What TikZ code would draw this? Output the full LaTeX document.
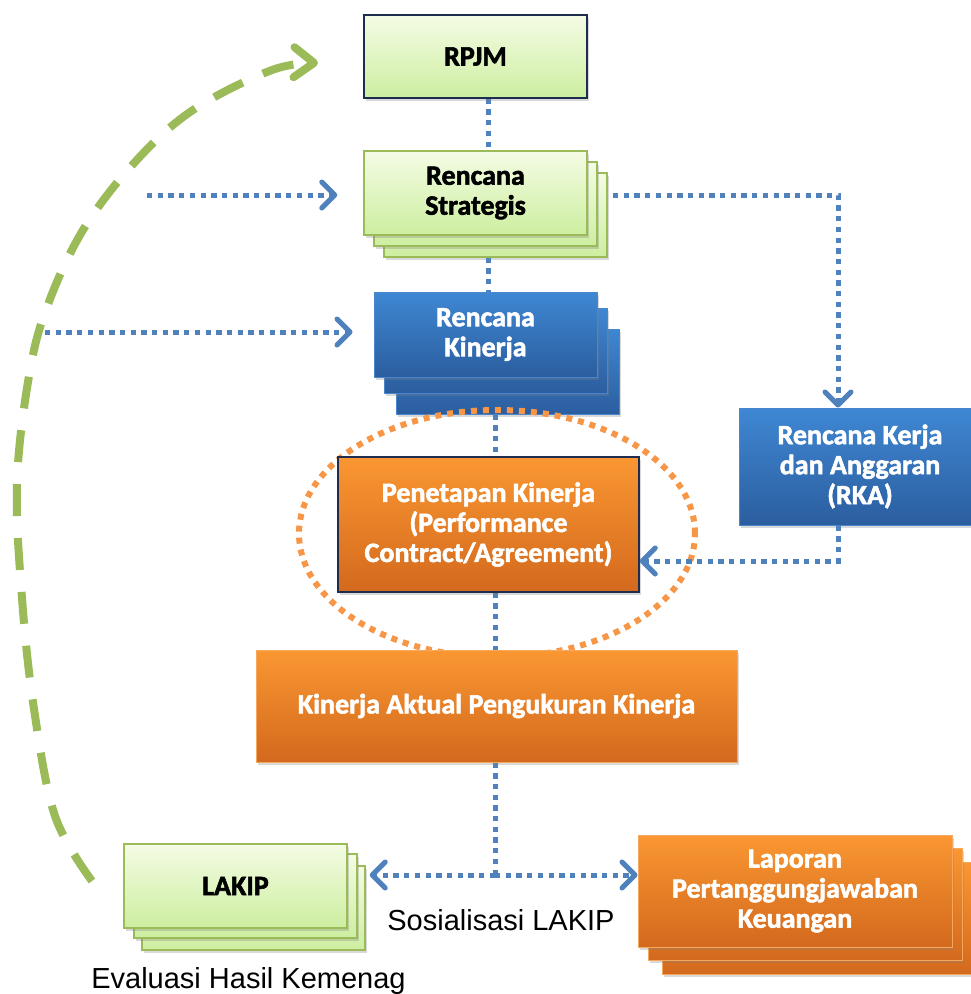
\documentclass[tikz,border=0pt]{standalone}
\usepackage{fontspec}
\setmainfont{Liberation Sans}
\newfontfamily\boxfont{Carlito}[BoldFeatures={FakeBold=2}]
\usepackage{tikz}
\usetikzlibrary{arrows.meta,positioning,shadows,backgrounds,shapes.geometric}
\definecolor{kgreen}{HTML}{9BBB59}
\definecolor{kgreentop}{HTML}{F4FCE4}
\definecolor{kgreenbot}{HTML}{CDEEA0}
\definecolor{kbluetop}{HTML}{3F87D3}
\definecolor{kbluebot}{HTML}{2B5E9F}
\definecolor{kblueedge}{HTML}{4A86CC}
\definecolor{korangetop}{HTML}{FA9732}
\definecolor{korangebot}{HTML}{D3691D}
\definecolor{korangeedge}{HTML}{F6A85E}
\definecolor{knavy}{HTML}{1E2D4F}
\definecolor{klink}{HTML}{4F81BD}
\definecolor{kellipse}{HTML}{F79646}

\begin{document}
\begin{tikzpicture}[x=1pt,y=-1pt,
  box/.style={rectangle,inner sep=0pt,align=center,font=\boxfont\bfseries\fontsize{28}{30}\selectfont,drop shadow={shadow xshift=2pt,shadow yshift=-3pt,opacity=.3}},
  green box/.style={box,draw=kgreen,line width=1.5pt,top color=kgreentop,bottom color=kgreenbot},
  blue box/.style={box,draw=kblueedge,line width=1pt,top color=kbluetop,bottom color=kbluebot,text=white},
  orange box/.style={box,draw=korangeedge,line width=1pt,top color=korangetop,bottom color=korangebot,text=white},
  link/.style={draw=klink,line width=5pt,dash pattern=on 5.3pt off 5.4pt},
  arr/.style={link,-{Straight Barb[length=13pt,width=26pt,round]}},
  backloop/.style={draw=kgreen,line width=8pt,dash pattern=on 32pt off 22pt,-{Straight Barb[length=20pt,width=30pt,round]}},
  ring/.style={draw=kellipse,line width=6pt,dash pattern=on 6pt off 6pt,ellipse,inner sep=0pt},
  caption/.style={font=\fontsize{29}{34}\selectfont,inner sep=0pt,anchor=base}
]
\useasboundingbox (0,0) rectangle (971,994);
\node[ring,minimum width=396pt,minimum height=247pt] (focus) at (497,533.5) {};
\node[green box,draw=knavy,minimum width=223pt,minimum height=83pt] (rpjm) at (475.5,56.5) {RPJM};
\node[green box,minimum width=223pt,minimum height=84pt] (renstra) at (475.5,193) {Rencana\\Strategis};
\node[blue box,minimum width=223pt,minimum height=85pt] (rkin) at (485.5,334.5) {Rencana\\Kinerja};
\node[orange box,draw=knavy,line width=1.5pt,minimum width=301pt,minimum height=135pt] (penkin) at (488.5,524.5) {Penetapan Kinerja\\(Performance\\Contract/Agreement)};
\node[blue box,minimum width=242pt,minimum height=117pt] (rka) at (860,466.5) {Rencana Kerja\\dan Anggaran\\(RKA)};
\node[orange box,minimum width=481pt,minimum height=112pt] (kaktual) at (496.5,706) {Kinerja Aktual Pengukuran Kinerja};
\node[green box,minimum width=223pt,minimum height=84pt] (lakip) at (235.5,886) {LAKIP};
\node[orange box,minimum width=314pt,minimum height=112pt] (lpk) at (795,891) {Laporan\\Pertanggungjawaban\\Keuangan};
\node[caption] (sosial) at (501,930) {Sosialisasi LAKIP};
\node[caption] (evaluasi) at (248.5,988) {Evaluasi Hasil Kemenag};

\coordinate (spineA) at (488,0);
\coordinate (spineB) at (495,0);
\coordinate (rkacol) at (838,0);
\coordinate (split) at (495,875);
\coordinate (rsout) at (613,195);
\coordinate (inRS) at (147,195);
\coordinate (inRK) at (45,332);
\coordinate (evalA) at (92,881);
\coordinate (evalB) at (318,63);

\begin{scope}[on background layer]
\node[green box,minimum width=223pt,minimum height=84pt] (renstraC) at ([shift={(20,22)}]renstra.center) {};
\node[green box,minimum width=223pt,minimum height=84pt] (renstraB) at ([shift={(10,11)}]renstra.center) {};
\node[blue box,minimum width=223pt,minimum height=85pt] (rkinC) at ([shift={(22,37)}]rkin.center) {};
\node[blue box,minimum width=223pt,minimum height=85pt] (rkinB) at ([shift={(10,16)}]rkin.center) {};
\node[green box,minimum width=223pt,minimum height=84pt] (lakipC) at ([shift={(18,22)}]lakip.center) {};
\node[green box,minimum width=223pt,minimum height=84pt] (lakipB) at ([shift={(10,10)}]lakip.center) {};
\node[orange box,minimum width=314pt,minimum height=112pt] (lpkC) at ([shift={(24,27)}]lpk.center) {};
\node[orange box,minimum width=314pt,minimum height=112pt] (lpkB) at ([shift={(10,13)}]lpk.center) {};
\draw[link] (rpjm.south -| spineA) -- (renstra.north -| spineA);
\draw[link] (renstraC.south -| spineA) -- (rkin.north -| spineA);
\draw[link] (rkinC.south -| spineB) -- (penkin.north -| spineB);
\draw[link] (penkin.south -| spineB) -- (kaktual.north -| spineB);
\draw[link] (kaktual.south -| spineB) -- (split);
\end{scope}

\draw[arr] (split) -- ([xshift=4pt]lakipC.east |- split);
\draw[arr] (split) -- (lpk.west |- split);
\draw[arr] (rsout) -| (rka.north -| rkacol);
\draw[arr] (rka.south -| rkacol) |- ([yshift=-36.5pt]penkin.east);
\draw[arr] (inRS) -- ([xshift=-26pt]renstra.west |- inRS);
\draw[arr] (inRK) -- ([xshift=-21pt]rkin.west |- inRK);
\draw[backloop] plot[smooth,tension=.6] coordinates {(evalA) (55,816) (34,709) (22,598) (17,483) (29,376) (47,307) (83,230) (135,162) (193,110) (272,70) (evalB)};
\end{tikzpicture}
\end{document}
